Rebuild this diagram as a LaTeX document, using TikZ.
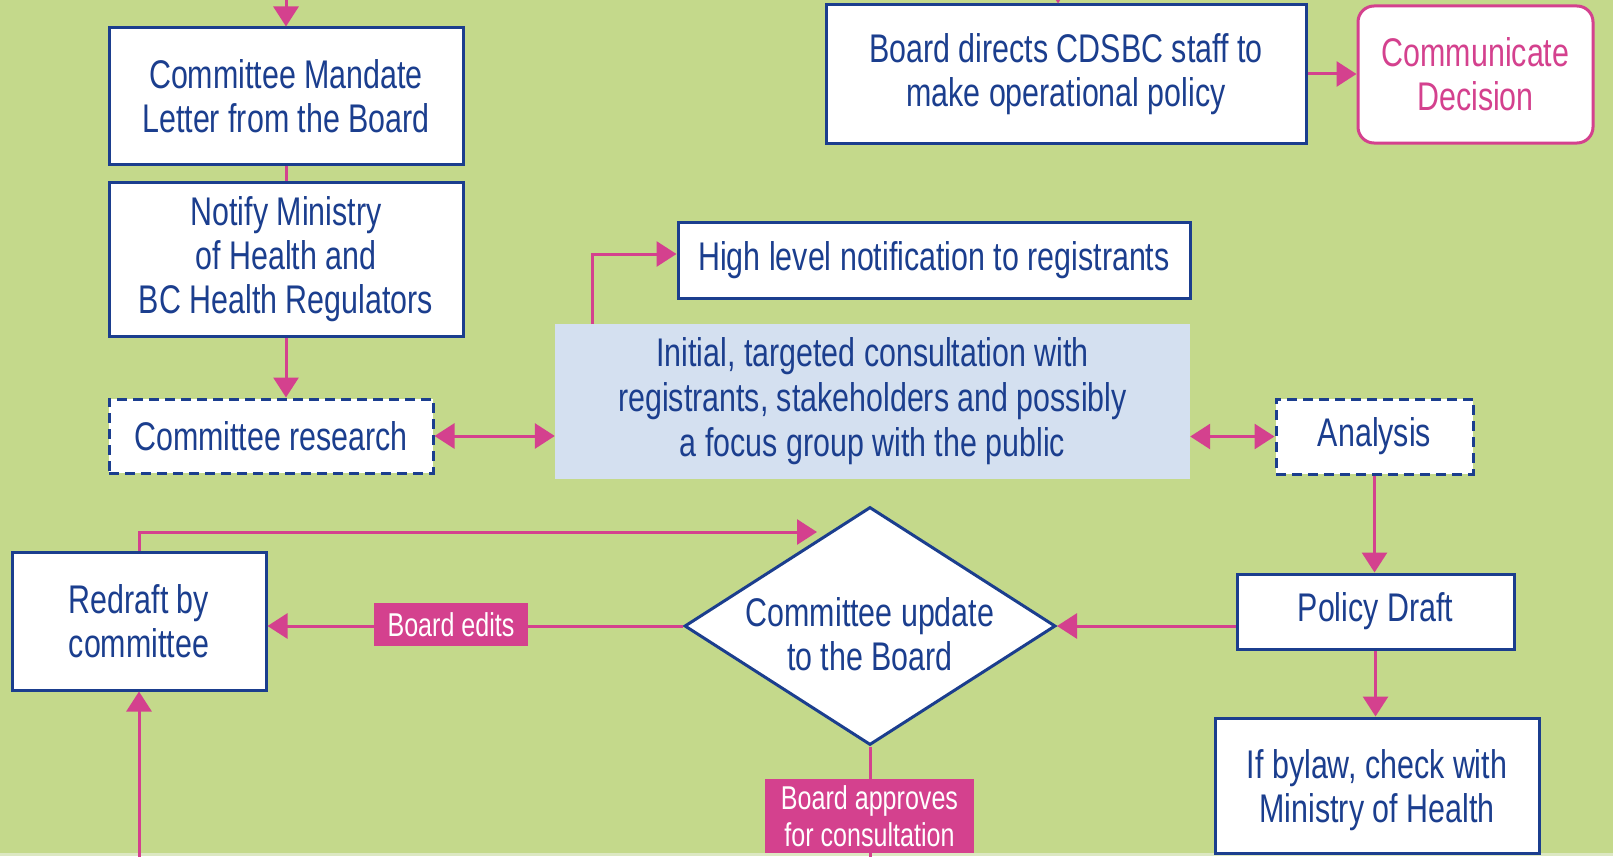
\documentclass[tikz,border=0pt]{standalone}
\usepackage{fontspec}
\setmainfont{Liberation Sans}[FakeStretch=0.76]
\usetikzlibrary{arrows.meta,shapes.geometric}
\definecolor{bg}{HTML}{C4D98B}
\definecolor{bgl}{HTML}{DCE8C2}
\definecolor{navy}{HTML}{1B3E8E}
\definecolor{pinkc}{HTML}{D4418E}
\definecolor{lblue}{HTML}{D4E0F0}
\tikzset{
  box/.style={draw=navy, line width=3pt, fill=white, text=navy, inner sep=0pt, align=center,
    font=\fontsize{40}{44}\selectfont},
  dbox/.style={box, dashed, dash pattern=on 10pt off 6pt},
  cbox/.style={fill=lblue, text=navy, inner sep=0pt, align=center, font=\fontsize{40}{45}\selectfont},
  pbox/.style={draw=pinkc, line width=3pt, fill=white, text=pinkc, rounded corners=16pt, inner sep=0pt,
    align=center, font=\fontsize{40}{44}\selectfont},
  lbl/.style={fill=pinkc, text=white, inner sep=0pt, align=center, font=\fontsize{33}{37}\selectfont},
  dtext/.style={text=navy, align=center, inner sep=0pt, font=\fontsize{40}{44}\selectfont},
  conn/.style={draw=pinkc, line width=3pt},
  arr/.style={conn, -{Triangle[length=20pt,width=25pt]}},
  darr/.style={conn, {Triangle[length=20pt,width=25pt]}-{Triangle[length=20pt,width=25pt]}},
}
\begin{document}
\begin{tikzpicture}[x=1pt,y=-1pt]
\useasboundingbox (0,0) rectangle (1613,856);
\fill[bg] (0,0) rectangle (1613,856);
\fill[bgl] (0,853) rectangle (1613,856);

% boxes
\node[box, minimum width=354pt, minimum height=136pt] (mand) at (286,96) {Committee Mandate\\Letter from the Board};
\node[box, minimum width=354pt, minimum height=154pt] (notif) at (286,259) {Notify Ministry\\of Health and\\BC Health Regulators};
\node[dbox, minimum width=324pt, minimum height=74pt] (res) at (271,436) {Committee research};
\node[box, minimum width=512pt, minimum height=76pt] (high) at (934,260) {High level notification to registrants};
\node[cbox, minimum width=635pt, minimum height=155pt] (cons) at (872.5,401.5) {Initial, targeted consultation with\\registrants, stakeholders and possibly\\a focus group with the public};
\node[dbox, minimum width=197pt, minimum height=75pt] (ana) at (1374.5,436.5) {Analysis};
\node[box, minimum width=277pt, minimum height=75pt] (pol) at (1375.5,611.5) {Policy Draft};
\node[box, minimum width=324pt, minimum height=135pt] (bylaw) at (1377,785.5) {\rule{0pt}{38pt}If bylaw, check with\\Ministry of Health};
\node[box, diamond, shape aspect=1.56, minimum width=371pt, minimum height=238pt,
  label={[dtext, yshift=-8pt]center:Committee update\\to the Board}] (dia) at (870,626) {};
\node[box, minimum width=254pt, minimum height=138pt] (red) at (139,621) {Redraft by\\committee};
\node[box, minimum width=480pt, minimum height=138pt] (board) at (1066,74) {Board directs CDSBC staff to\\make operational policy};
\node[pbox, minimum width=235pt, minimum height=137pt] (comm) at (1475.5,74.5) {Communicate\\Decision};

% free ends
\coordinate (topA) at (286,-30);
\coordinate (topB) at (1058,-30);
\coordinate (loopend) at (817,532);
\coordinate (botR) at (139,880);
\coordinate (botD) at (870,880);
\coordinate (hbend) at (592,254);

% connectors
\draw[arr] (topA) -- (mand.north);
\draw[arr] (topB) -- (board.north -| topB);
\draw[conn] (mand.south) -- (notif.north);
\draw[arr] (notif.south) -- (res.north -| notif.south);
\draw[darr] (res.east) -- (res.east -| cons.west);
\draw[darr] (cons.east |- ana.west) -- (ana.west);
\draw[arr] (cons.north -| hbend) |- (high.west |- hbend);
\draw[arr] (ana.south) -- (pol.north -| ana.south);
\draw[arr] (pol.south) -- (bylaw.north -| pol.south);
\draw[arr] (pol.west |- dia.east) -- (dia.east);
\draw[arr] (dia.west) -- (red.east |- dia.west);
\draw[arr] (red.north) |- (loopend);
\draw[arr] (botR) -- (red.south);
\draw[conn] (dia.south) -- (botD);
\draw[arr] (board.east) -- (comm.west |- board.east);

% labels
\node[lbl, minimum width=154pt, minimum height=43pt] (edits) at (451,624.5) {Board edits};
\node[lbl, minimum width=209pt, minimum height=74pt] (appr) at (869.5,816) {Board approves\\for consultation};
\end{tikzpicture}
\end{document}
